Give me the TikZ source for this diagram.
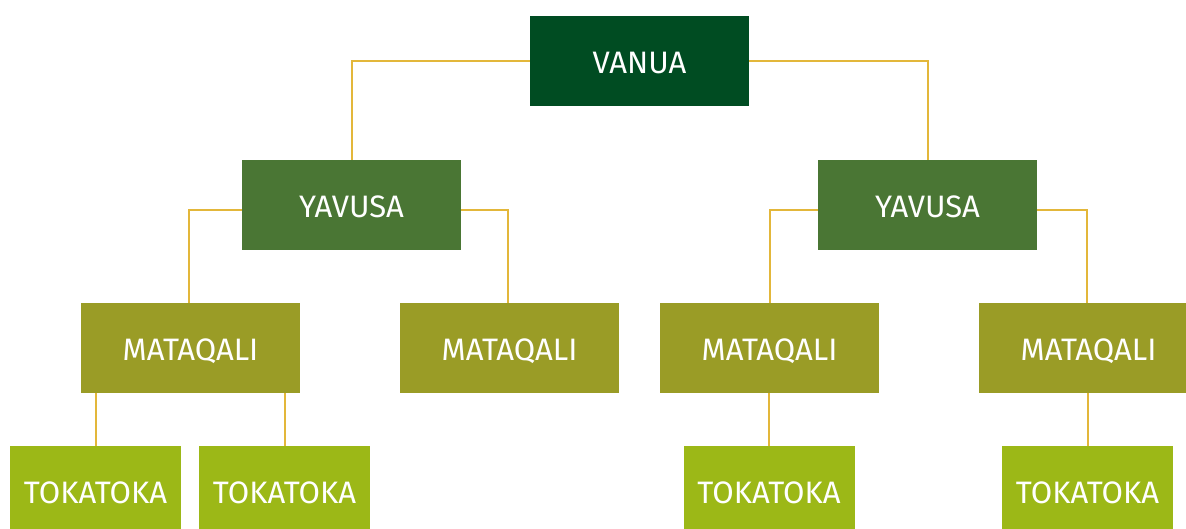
\documentclass[tikz,border=0pt]{standalone}
\usepackage{fontspec}
\setmainfont{Fira Sans}
\usepackage{tikz}
\usetikzlibrary{positioning,calc}
\usepackage{xcolor}
\definecolor{vanuagreen}{HTML}{004C22}
\definecolor{yavusagreen}{HTML}{4A7634}
\definecolor{mataqaliolive}{HTML}{9A9C26}
\definecolor{tokatokalime}{HTML}{9CB817}
\definecolor{linkgold}{HTML}{E3B73A}

\begin{document}
\begin{tikzpicture}[x=1pt,y=-1pt,
  box/.style={text=white,inner sep=0pt,minimum width=219pt,minimum height=90pt,
    text height=24.4pt,text depth=0pt,font=\fontsize{31}{34}\selectfont},
  link/.style={draw=linkgold,line width=2pt}]
\useasboundingbox (0,0) rectangle (1186,529);
\node[box,fill=vanuagreen] (vanua) at (639.5,61) {VANUA};
\node[box,fill=yavusagreen] (yavL) at (351.5,205) {YAVUSA};
\node[box,fill=yavusagreen] (yavR) at (927.5,205) {YAVUSA};
\node[box,fill=mataqaliolive] (matA) at (190.5,348) {MATAQALI};
\node[box,fill=mataqaliolive] (matB) at (509.5,348) {MATAQALI};
\node[box,fill=mataqaliolive] (matC) at (769.5,348) {MATAQALI};
\node[box,fill=mataqaliolive] (matD) at (1088.5,348) {MATAQALI};
\node[box,fill=tokatokalime,minimum width=171pt] (tokA) at (95.5,491) {TOKATOKA};
\node[box,fill=tokatokalime,minimum width=171pt] (tokB) at (284.5,491) {TOKATOKA};
\node[box,fill=tokatokalime,minimum width=171pt] (tokC) at (769,491) {TOKATOKA};
\node[box,fill=tokatokalime,minimum width=171pt] (tokD) at (1087.5,491) {TOKATOKA};
% connectors
\draw[link] (vanua.west) -| (yavL.north);
\draw[link] (vanua.east) -| (yavR.north);
\draw[link] ([yshift=-5pt]yavL.west) -| ([xshift=-1.5pt]matA.north);
\draw[link] ([yshift=-5pt]yavL.east) -| ([xshift=-1.5pt]matB.north);
\draw[link] ([yshift=-5pt]yavR.west) -| (matC.north);
\draw[link] ([yshift=-5pt]yavR.east) -| ([xshift=-1.5pt]matD.north);
\draw[link] (tokA.north |- matA.south) -- (tokA.north);
\draw[link] (tokB.north |- matA.south) -- (tokB.north);
\draw[link] (tokC.north |- matC.south) -- (tokC.north);
\draw[link] (tokD.north |- matD.south) -- (tokD.north);
\end{tikzpicture}
\end{document}
